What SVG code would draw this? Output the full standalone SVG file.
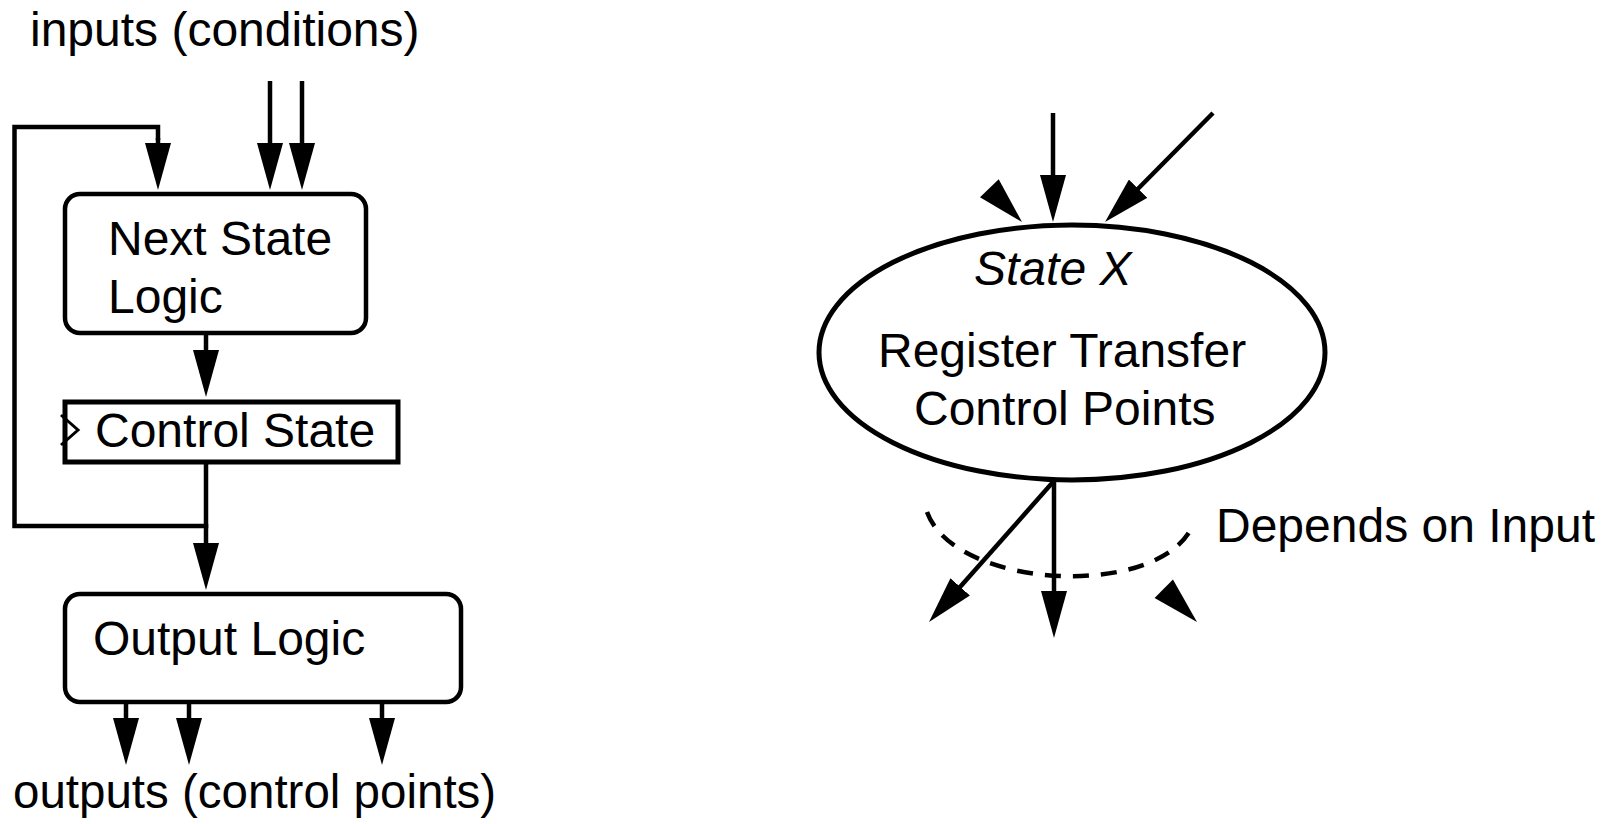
<svg xmlns="http://www.w3.org/2000/svg" xmlns:xlink="http://www.w3.org/1999/xlink" width="1613" height="824" viewBox="0 0 1613 824">
<style>
text{font-family:"Liberation Sans",Arial,sans-serif;font-size:48px;fill:#000}
.it{font-style:italic}
.box{fill:#fff;stroke:#000;stroke-width:4.5}
.ln{fill:none;stroke:#000;stroke-width:4.5}
.arr{fill:none;stroke:#000;stroke-width:4.5;marker-end:url(#ah)}
.dash{fill:none;stroke:#000;stroke-width:4.5;stroke-dasharray:16 12}
</style>
<defs>
<marker id="ah" viewBox="0 0 47 26" refX="30" refY="13" markerWidth="47" markerHeight="26" markerUnits="userSpaceOnUse" orient="auto">
<path d="M0,0 L47,13 L0,26 Z" fill="#000"/>
</marker>
<path id="head" d="M-47,-13 L0,0 L-47,13 Z" fill="#000"/>
</defs>
<rect width="1613" height="824" fill="#fff"/>

<text x="30" y="46">inputs (conditions)</text>
<text x="13" y="808" style="font-size:47.5px">outputs (control points)</text>

<g id="connectors">
<path class="ln" d="M206,464 V526 H14.5 V127 H158 V140"/>
<line class="arr" x1="158" y1="138" x2="158" y2="173"/>
<line class="arr" x1="270" y1="81" x2="270" y2="173"/>
<line class="arr" x1="302" y1="81" x2="302" y2="173"/>
<line class="arr" x1="206" y1="335" x2="206" y2="380"/>
<line class="arr" x1="206" y1="524" x2="206" y2="573"/>
<line class="arr" x1="126" y1="702" x2="126" y2="748"/>
<line class="arr" x1="189" y1="702" x2="189" y2="748"/>
<line class="arr" x1="382" y1="702" x2="382" y2="748"/>
<line class="arr" x1="1053" y1="113" x2="1053" y2="205"/>
<line class="arr" x1="1213" y1="113" x2="1117" y2="210"/>
<use xlink:href="#head" transform="translate(1022,222) rotate(46)"/>
<line class="arr" x1="1053" y1="482" x2="940.3" y2="609.3"/>
<line class="arr" x1="1054" y1="482" x2="1054" y2="621"/>
<use xlink:href="#head" transform="translate(1197,622) rotate(45)"/>
<path class="dash" d="M927,512 C955,590 1160,600 1193,525"/>
</g>

<g id="next-state-logic">
<rect class="box" x="65" y="194" width="301" height="139" rx="15"/>
<text x="108" y="255">Next State</text>
<text x="108" y="313">Logic</text>
</g>

<g id="control-state">
<rect class="box" x="65" y="402" width="333" height="60" style="stroke-width:5"/>
<polyline points="61,415 78,430 61,445" fill="none" stroke="#000" stroke-width="3"/>
<text x="95" y="447">Control State</text>
</g>

<g id="output-logic">
<rect class="box" x="65" y="594" width="396" height="108" rx="15"/>
<text x="93" y="655">Output Logic</text>
</g>

<g id="state-x">
<ellipse cx="1072" cy="352.5" rx="253" ry="127.5" fill="#fff" stroke="#000" stroke-width="5"/>
<text class="it" x="974" y="285">State X</text>
<text x="878" y="367">Register Transfer</text>
<text x="914" y="425">Control Points</text>
</g>

<g id="depends-label">
<text x="1216" y="542">Depends on Input</text>
</g>
</svg>
